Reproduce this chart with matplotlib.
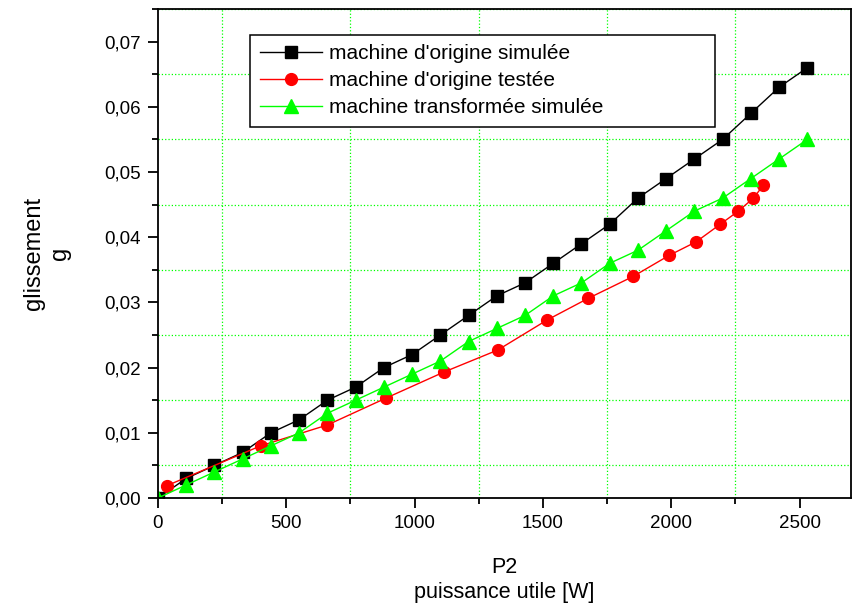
import numpy as np
import matplotlib
matplotlib.use("Agg")
import matplotlib.pyplot as plt
from matplotlib.ticker import MultipleLocator, FuncFormatter

plt.rcParams['font.family'] = ['Liberation Sans', 'DejaVu Sans']

# machine d'origine simulee
p_sim = [0, 110, 220, 330, 440, 550, 660, 770, 880, 990, 1100, 1210,
         1320, 1430, 1540, 1650, 1760, 1870, 1980, 2090, 2200, 2310, 2420, 2530]
g_orig_sim = [0.000, 0.003, 0.005, 0.007, 0.010, 0.012, 0.015, 0.017, 0.020, 0.022, 0.025, 0.028,
              0.031, 0.033, 0.036, 0.039, 0.042, 0.046, 0.049, 0.052, 0.055, 0.059, 0.063, 0.066]
# machine transformee simulee
g_trans_sim = [0.000, 0.002, 0.004, 0.006, 0.008, 0.010, 0.013, 0.015, 0.017, 0.019, 0.021, 0.024,
               0.026, 0.028, 0.031, 0.033, 0.036, 0.038, 0.041, 0.044, 0.046, 0.049, 0.052, 0.055]
# machine d'origine testee
p_test = [35, 400, 660, 887, 1113, 1324, 1516, 1675, 1852, 1991, 2097, 2191, 2261, 2320, 2359]
g_orig_test = [0.0019, 0.0080, 0.0112, 0.0153, 0.0193, 0.0227, 0.0273, 0.0306, 0.0340,
               0.0372, 0.0393, 0.0420, 0.0440, 0.0460, 0.0480]

W, H = 853, 604
fig = plt.figure(figsize=(W / 100, H / 100), dpi=100)
ax = fig.add_axes([158 / W, (H - 498) / H, (851 - 158) / W, (498 - 9) / H])

ax.plot(p_sim, g_orig_sim, color='black', lw=1, marker='s', ms=8,
        label="machine d'origine simulée")
ax.plot(p_test, g_orig_test, color='red', lw=1, marker='o', ms=8.5,
        label="machine d'origine testée")
ax.plot(p_sim, g_trans_sim, color='#00ff00', lw=1, marker='^', ms=9.5,
        label="machine transformée simulée")

ax.set_xlim(0, 2700)
ax.set_ylim(0, 0.075)
ax.xaxis.set_major_locator(MultipleLocator(500))
ax.xaxis.set_minor_locator(MultipleLocator(250))
ax.yaxis.set_major_locator(MultipleLocator(0.01))
ax.yaxis.set_minor_locator(MultipleLocator(0.005))
ax.yaxis.set_major_formatter(FuncFormatter(lambda v, p: f"{v:.2f}".replace('.', ',')))

ax.grid(which='minor', color='#00ff00', linestyle=':', linewidth=0.9)
ax.grid(which='major', visible=False)
ax.tick_params(which='major', direction='out', length=7.5, width=1.3, labelsize=13.5, pad=5)
ax.tick_params(which='minor', direction='out', length=4, width=1.3)
for s in ax.spines.values():
    s.set_linewidth(1.3)

ax.set_xlabel("P2\npuissance utile [W]", fontsize=15.5, labelpad=18, linespacing=1.2)
ax.set_ylabel("glissement\ng", fontsize=17, labelpad=24, linespacing=1.2)

leg = ax.legend(loc='upper left', bbox_to_anchor=(0.133, 0.7423, 0.671, 0.2045),
                mode='expand', fontsize=15,
                fancybox=False, edgecolor='black', framealpha=1, borderpad=0.45,
                handlelength=3.0, handletextpad=0.35, labelspacing=0.38,
                borderaxespad=0)
leg.get_frame().set_linewidth(1.1)

fig.savefig("out.png", dpi=100)
